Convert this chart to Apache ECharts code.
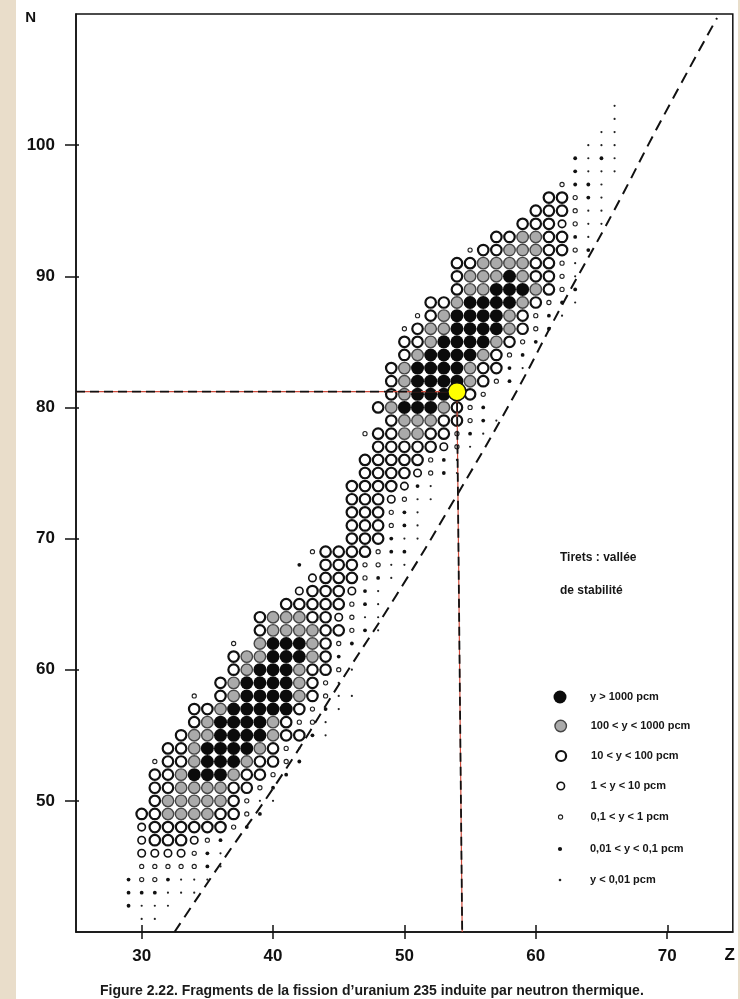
<!DOCTYPE html>
<html>
<head>
<meta charset="utf-8">
<script src="https://cdn.jsdelivr.net/npm/echarts@6/dist/echarts.min.js"></script>
<style>
  html, body { margin: 0; padding: 0; background: #e9ddca; }
  #chart { position: absolute; left: 16px; top: 0; width: 722px; height: 999px; background: #fff; }
</style>
</head>
<body>
<div id="chart"></div>
<script>
// rangées de noyaux : N, premier Z, puis une lettre par Z (classe de rendement)
// B >1000, G 100-1000, O 10-100, o 1-10, c 0,1-1, s 0,01-0,1, d <0,01, '-' vide
var rowN = [41, 42, 43, 44, 45, 46, 47, 48, 49, 50,
            51, 52, 53, 54, 55, 56, 57, 58, 59, 60,
            61, 62, 63, 64, 65, 66, 67, 68, 69, 70,
            71, 72, 73, 74, 75, 76, 77, 78, 79, 80,
            81, 82, 83, 84, 85, 86, 87, 88, 89, 90,
            91, 92, 93, 94, 95, 96, 97, 98, 99, 100,
            101, 102, 103];
var rowZ0 = [30, 29, 29, 29, 30, 30, 30, 30, 30, 31,
             31, 31, 31, 32, 33, 34, 34, 34, 36, 37,
             37, 37, 39, 39, 41, 42, 43, 42, 43, 46,
             46, 46, 46, 46, 47, 47, 48, 47, 49, 48,
             49, 49, 49, 50, 50, 50, 51, 52, 54, 54,
             54, 55, 57, 59, 60, 61, 62, 63, 63, 64,
             65, 66, 66];
var rowCodes = ['dd', 'sddd', 'sssddd', 'sccsddd', 'cccccsd', 'oooocsd', 'oOOOocs', 'oOOOOOOcs', 'OOGGGGOOcs', 'OGGGGGOcdd',
                'OOGGGGOOcs', 'OOGBBBGOOcs', 'cOOGBBBGOOcs', 'OOGBBBBGOcd', 'OGGBBBBGOOsd', 'OGBBBBGOccd', 'OOGBBBBBOcsd', 'c-OGBBBBGOcdd', 'OGBBBBGOcd', 'OGBBBGOOcd',
                'OGGBBBGOs', 'c-GBBBGOcs', 'OGGGGOOcsd', 'OGGGOOocdd', 'OOOOOcsd', 'oOOOosd', 'oOOOcsd', 's-OOOccdd', 'cOOOOcss', 'OOOsdd',
                'OOOcsd', 'OOOcsd', 'OOOocdd', 'OOOOosd', 'OOOOocsd', 'OOOOOcsd', 'OOOOOocd', 'cOOGGOOcsd', 'OGGGOOcsd', 'OGBBBGOcs',
                'OGBBBBOc', 'OGBBBBGOcs', 'OGBBBBGOOsd', 'OGBBBBGOcs', 'OOGBBBBGOcs', 'cOGGBBBBGOcs', 'cOGBBBBGOcsd', 'OOGBBBBGOcsd', 'OGGBBBGOcs', 'OGGGBGOOcd',
                'OOGGGGOOcd', 'cOOGGGOOcs', 'OOGGOOsd', 'OOOocdd', 'OOOcdd', 'OOcsd', 'cssd', 'sddd', 'sdsd', 'ddd',
                'dd', 'd', 'd'];

var classCodes = ['B', 'G', 'O', 'o', 'c', 's', 'd'];
var classNames = ['y > 1000 pcm', '100 < y < 1000 pcm', '10 < y < 100 pcm', '1 < y < 10 pcm',
                  '0,1 < y < 1 pcm', '0,01 < y < 0,1 pcm', 'y < 0,01 pcm'];

// vallée de stabilité (tirets)
var valleyZ = [32.5, 36, 40.7, 45.1, 49.4, 53.7, 58.3, 62, 65.9, 69.5, 73.8];
var valleyN = [40, 45.2, 52, 59, 65.7, 72.8, 80.8, 87.8, 94.9, 101.8, 109.7];

// point repéré en jaune, et pied du trait vertical
var markZ = 54;
var markN = 81.2;
var footZ = 54.4;

var xTicks = [30, 40, 50, 60, 70];
var yTicks = [50, 60, 70, 80, 90, 100];

// apparence des classes
var classStyle = {
  B: { size: 13,   color: '#0b0b0b', border: '#0b0b0b', bw: 0,   legend: 13 },
  G: { size: 11.5, color: '#aaaaaa', border: '#454545', bw: 1.4, legend: 11.5 },
  O: { size: 10.5, color: '#ffffff', border: '#111111', bw: 2.2, legend: 10 },
  o: { size: 7.5,  color: '#ffffff', border: '#111111', bw: 1.6, legend: 7.5 },
  c: { size: 4.2,  color: '#ffffff', border: '#222222', bw: 1.1, legend: 4.2 },
  s: { size: 3.8,  color: '#111111', border: '#111111', bw: 0,   legend: 4.2 },
  d: { size: 2.2,  color: '#222222', border: '#222222', bw: 0,   legend: 2.6 }
};
var legendCenterY = [697, 726, 756, 786, 817, 849, 880];

var points = classCodes.map(function () { return []; });
rowN.forEach(function (n, i) {
  rowCodes[i].split('').forEach(function (ch, k) {
    var c = classCodes.indexOf(ch);
    if (c >= 0) points[c].push([rowZ0[i] + k, n]);
  });
});

var labelFont = 'Liberation Sans, Arial, sans-serif';

var series = classCodes.map(function (code, i) {
  var st = classStyle[code];
  return {
    name: classNames[i],
    type: 'scatter',
    xAxisIndex: 0, yAxisIndex: 0,
    symbol: 'circle',
    symbolSize: st.size,
    itemStyle: { color: st.color, borderColor: st.border, borderWidth: st.bw, opacity: 1 },
    data: points[i],
    z: 3
  };
});

series.push({
  name: 'vallee',
  type: 'line',
  smooth: true,
  symbol: 'none',
  xAxisIndex: 0, yAxisIndex: 0,
  lineStyle: { color: '#111', width: 2, type: [11, 7] },
  data: valleyZ.map(function (z, i) { return [z, valleyN[i]]; }),
  z: 2
});

var guide = [[25, markN], [markZ, markN], [footZ, 40]];
series.push({
  name: 'repere-rouge',
  type: 'line',
  symbol: 'none',
  xAxisIndex: 0, yAxisIndex: 0,
  lineStyle: { color: '#cf4b3b', width: 1.2 },
  data: guide,
  z: 4
});
series.push({
  name: 'repere-noir',
  type: 'line',
  symbol: 'none',
  xAxisIndex: 0, yAxisIndex: 0,
  lineStyle: { color: '#111', width: 1.8, type: [9, 5] },
  data: guide,
  z: 5
});
series.push({
  name: 'point',
  type: 'scatter',
  xAxisIndex: 0, yAxisIndex: 0,
  symbol: 'circle',
  symbolSize: 18,
  itemStyle: { color: '#ffff00', borderColor: '#111', borderWidth: 1.5, opacity: 1 },
  data: [[markZ, markN]],
  z: 6
});

// icône centrée vers x = 560, texte vers x = 590 (page)
var legends = classCodes.map(function (code, i) {
  var st = classStyle[code];
  return {
    data: [classNames[i]],
    left: 560 - 16 - st.legend / 2,
    top: legendCenterY[i] - 7,
    padding: 0,
    itemWidth: 50,
    itemHeight: st.legend,
    icon: 'circle',
    selectedMode: false,
    itemStyle: { color: st.color, borderColor: st.border, borderWidth: st.bw },
    textStyle: { fontSize: 11, fontWeight: 'bold', color: '#161616', lineHeight: 14, fontFamily: labelFont }
  };
});

var chart = echarts.init(document.getElementById('chart'));
chart.setOption({
  animation: false,
  backgroundColor: '#ffffff',
  title: [
    { text: 'Tirets : vallée', left: 560 - 16, top: 552, padding: 0,
      textStyle: { fontSize: 12, fontWeight: 'bold', color: '#161616', fontFamily: labelFont } },
    { text: 'de stabilité', left: 560 - 16, top: 585, padding: 0,
      textStyle: { fontSize: 12, fontWeight: 'bold', color: '#161616', fontFamily: labelFont } },
    { text: 'Figure 2.22. Fragments de la fission d’uranium 235 induite par neutron thermique.',
      left: 100 - 16, top: 984, padding: 0,
      textStyle: { fontSize: 14, fontWeight: 'bold', color: '#1a1a1a', fontFamily: labelFont } }
  ],
  legend: legends,
  grid: [
    { left: 60, right: 5, top: 14, bottom: 67, show: true, borderColor: '#111', borderWidth: 1.5, backgroundColor: 'transparent' },
    { left: 60, right: 5, top: 14, bottom: 67 }
  ],
  xAxis: [
    {
      type: 'value', gridIndex: 0, min: 25, max: 75,
      name: 'Z', nameLocation: 'end', nameGap: -3,
      nameTextStyle: { fontSize: 17, fontWeight: 'bold', color: '#111', align: 'center', verticalAlign: 'top', padding: [15, 0, 0, 0], fontFamily: labelFont },
      axisLine: { lineStyle: { color: '#111', width: 1.5 } },
      axisTick: { customValues: xTicks, length: 7, lineStyle: { color: '#111', width: 1.5 } },
      axisLabel: { customValues: xTicks, margin: 16, fontSize: 17, fontWeight: 'bold', color: '#111', fontFamily: labelFont },
      splitLine: { show: false }
    },
    {
      type: 'value', gridIndex: 1, min: 25, max: 75, position: 'bottom',
      axisLine: { show: false },
      axisTick: { customValues: xTicks, inside: true, length: 7, lineStyle: { color: '#111', width: 1.5 } },
      axisLabel: { show: false },
      splitLine: { show: false }
    }
  ],
  yAxis: [
    {
      type: 'value', gridIndex: 0, min: 40, max: 110,
      name: 'N', nameLocation: 'end', nameGap: -4,
      nameTextStyle: { fontSize: 15, fontWeight: 'bold', color: '#111', align: 'right', verticalAlign: 'middle', padding: [0, 40, 0, 0], fontFamily: labelFont },
      axisLine: { lineStyle: { color: '#111', width: 1.5 } },
      axisTick: { customValues: yTicks, length: 11, lineStyle: { color: '#111', width: 1.5 } },
      axisLabel: { customValues: yTicks, margin: 21, fontSize: 17, fontWeight: 'bold', color: '#111', fontFamily: labelFont },
      splitLine: { show: false }
    },
    {
      type: 'value', gridIndex: 1, min: 40, max: 110, position: 'left',
      axisLine: { show: false },
      axisTick: { customValues: yTicks, inside: true, length: 3, lineStyle: { color: '#111', width: 1.5 } },
      axisLabel: { show: false },
      splitLine: { show: false }
    }
  ],
  series: series
});
</script>
</body>
</html>
